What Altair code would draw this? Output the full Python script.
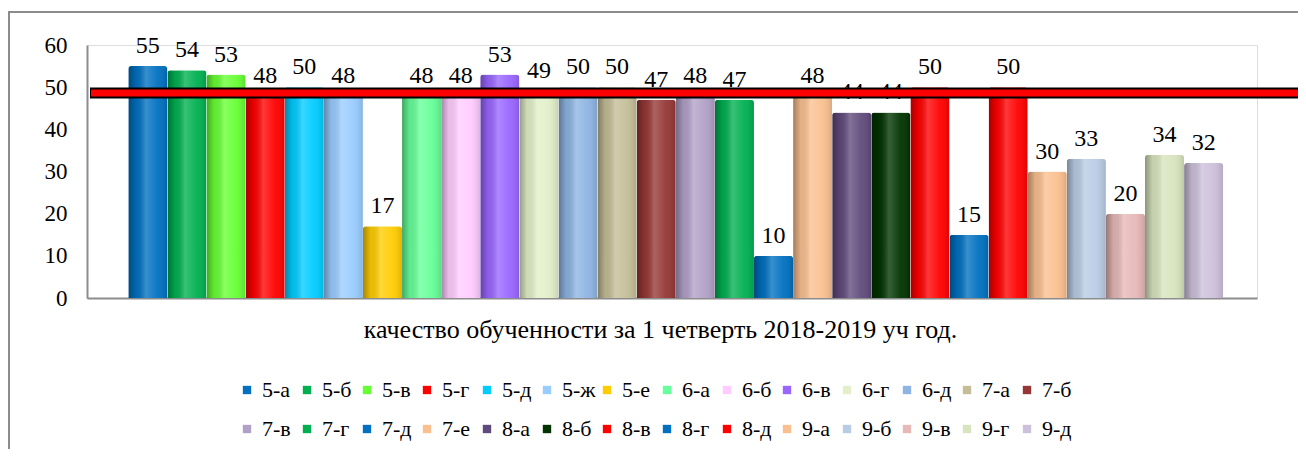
import altair as alt
import pandas as pd

classes = ["5-а", "5-б", "5-в", "5-г", "5-д", "5-ж", "5-е", "6-а", "6-б", "6-в",
           "6-г", "6-д", "7-а", "7-б", "7-в", "7-г", "7-д", "7-е", "8-а", "8-б",
           "8-в", "8-г", "8-д", "9-а", "9-б", "9-в", "9-г", "9-д"]
values = [55, 54, 53, 48, 50, 48, 17, 48, 48, 53, 49, 50, 50, 47, 48, 47, 10, 48,
          44, 44, 50, 15, 50, 30, 33, 20, 34, 32]
colors = ["#0070C0", "#00B050", "#66FF33", "#FF0000", "#00CCFF", "#99CCFF", "#FFCC00",
          "#66FF99", "#FFCCFF", "#9966FF", "#E2EFC8", "#8DB4E2", "#C4BD97", "#953735",
          "#B1A0C7", "#00B050", "#0070C0", "#FAC090", "#604A7B", "#003300", "#FF0000",
          "#0070C0", "#FF0000", "#FABF8F", "#B8CCE4", "#E6B8B7", "#D7E4BD", "#CCC0DA"]
threshold = [48.6]
x_title = "качество обученности за 1 четверть 2018-2019 уч год."

df = pd.DataFrame({"класс": classes, "значение": values})
df_line = pd.DataFrame({"порог": threshold})
df_frame = pd.DataFrame({"k": [0]})

FONT = "Liberation Serif"
W, H = 1170, 253

xenc = alt.X("класс:N", sort=classes,
             scale=alt.Scale(paddingInner=0, paddingOuter=0.96, align=0.55),
             axis=alt.Axis(labels=False, ticks=False, domainColor="#8c8c8c", domainWidth=2,
                           title=x_title, titleFont=FONT, titleFontSize=26,
                           titleFontWeight="normal", titleColor="black",
                           titleX=573, titleY=31, titleBaseline="middle", titleAlign="center"))
yenc = alt.Y("значение:Q",
             scale=alt.Scale(domain=[0, 60], nice=False),
             axis=alt.Axis(values=[0, 10, 20, 30, 40, 50, 60], ticks=False, grid=False,
                           labelFont=FONT, labelFontSize=23, labelColor="black",
                           labelPadding=20, domainColor="#8c8c8c", domainWidth=2,
                           title=None))

base = alt.Chart(df)

bars = base.mark_bar(cornerRadiusTopLeft=3, cornerRadiusTopRight=3).encode(
    x=xenc, y=yenc,
    color=alt.Color("класс:N",
                    scale=alt.Scale(domain=classes, range=colors),
                    legend=alt.Legend(orient="none", legendX=149, legendY=334,
                                      direction="horizontal", columns=14,
                                      symbolType="square", symbolSize=70,
                                      symbolStrokeWidth=0,
                                      labelFont=FONT, labelFontSize=22, labelColor="black",
                                      labelOffset=4, columnPadding=-2, rowPadding=17,
                                      gridAlign="all", title=None)),
)

shade = base.mark_bar(
    cornerRadiusTopLeft=3, cornerRadiusTopRight=3,
    fill=alt.Gradient(
        gradient="linear", x1=0, x2=1, y1=0, y2=0,
        stops=[
            alt.GradientStop(color="rgba(0,0,0,0.35)", offset=0),
            alt.GradientStop(color="rgba(0,0,0,0.08)", offset=0.2),
            alt.GradientStop(color="rgba(255,255,255,0.22)", offset=0.45),
            alt.GradientStop(color="rgba(255,255,255,0.05)", offset=0.75),
            alt.GradientStop(color="rgba(0,0,0,0.12)", offset=1),
        ],
    ),
).encode(x=alt.X("класс:N", sort=classes), y="значение:Q")

labels = base.mark_text(baseline="alphabetic", dy=-13, font=FONT, fontSize=24,
                        color="black").encode(
    x=alt.X("класс:N", sort=classes), y="значение:Q", text="значение:Q")

line_black = alt.Chart(df_line).mark_rule(color="black", strokeWidth=11, strokeCap="butt").encode(
    y="порог:Q", x=alt.value(3), x2=alt.value(1215))
line_red = alt.Chart(df_line).mark_rule(color="#FF0000", strokeWidth=7, strokeCap="butt").encode(
    y="порог:Q", x=alt.value(4), x2=alt.value(1215))

frame = alt.Chart(df_frame).mark_rect(fillOpacity=0, stroke="#8c8c8c", strokeWidth=2).encode(
    x=alt.value(-78), x2=alt.value(1300), y=alt.value(-33), y2=alt.value(500))

chart = alt.layer(bars, shade, labels, line_black, line_red, frame).properties(
    width=W, height=H,
    autosize=alt.AutoSizeParams(type="none"),
    padding={"left": 79, "top": 37, "right": 41, "bottom": 151},
).configure_view(stroke=None).configure(background="white")

chart.save("out.html", embed_options={"renderer": "svg", "actions": False})
